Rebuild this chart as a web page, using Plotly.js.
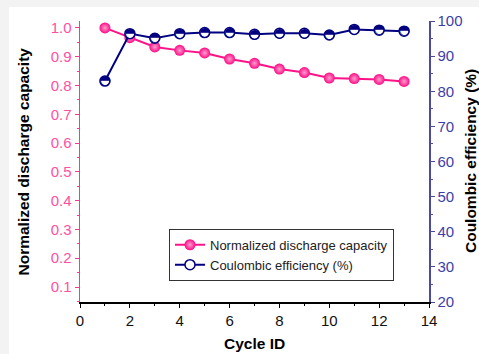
<!DOCTYPE html>
<html>
<head>
<meta charset="utf-8">
<script src="https://cdn.plot.ly/plotly-3.0.1.min.js"></script>
<style>
  html, body { margin: 0; padding: 0; background: #f3f3f3; width: 479px; height: 354px; overflow: hidden; }
  #chart { position: absolute; left: 9px; top: 7px; width: 470px; height: 347px; background: #ffffff; }
</style>
</head>
<body>
<div id="chart"></div>
<script>
// Cycle index
const cycles = [1, 2, 3, 4, 5, 6, 7, 8, 9, 10, 11, 12, 13];
// Discharge capacity normalised to the first cycle
const normCapacity = [1.0, 0.966, 0.934, 0.922, 0.913, 0.892, 0.877, 0.857, 0.845, 0.826, 0.824, 0.821, 0.814];
// Coulombic efficiency, %
const coulombic = [82.9, 96.4, 95.1, 96.4, 96.7, 96.7, 96.2, 96.5, 96.5, 96.0, 97.6, 97.4, 97.1];

const xTicks = [0, 2, 4, 6, 8, 10, 12, 14];
const capTicks = [0.1, 0.2, 0.3, 0.4, 0.5, 0.6, 0.7, 0.8, 0.9, 1.0];
const ceTicks = [20, 30, 40, 50, 60, 70, 80, 90, 100];

const PINK = '#ff1188';
const NAVY = '#000080';
const FONT = 'Arial, "Liberation Sans", sans-serif';

const traces = [
  {
    x: cycles, y: normCapacity, name: 'Normalized discharge capacity',
    type: 'scatter', mode: 'lines+markers', xaxis: 'x', yaxis: 'y',
    line: { color: PINK, width: 2 },
    marker: { symbol: 'circle', size: 11, color: '#ff0a84',
              line: { width: 0 },
              gradient: { type: 'radial', color: '#ff9fd0' } }
  },
  {
    x: cycles, y: coulombic, name: 'Coulombic efficiency (%)',
    type: 'scatter', mode: 'lines+markers', xaxis: 'x', yaxis: 'y2',
    line: { color: NAVY, width: 2 },
    marker: { symbol: 'circle', size: 10, color: '#ffffff',
              line: { color: NAVY, width: 1.5 } }
  },
  {
    // upper half filled glyph on top of each efficiency point
    x: cycles, y: coulombic, showlegend: false, hoverinfo: 'skip',
    type: 'scatter', mode: 'text', xaxis: 'x', yaxis: 'y2',
    text: cycles.map(() => '\u25D3'),
    textposition: 'middle center',
    textfont: { family: '"DejaVu Sans"', size: 13, color: NAVY }
  }
];

const layout = {
  width: 470, height: 347,
  margin: { l: 71, r: 50, t: 14, b: 52.3 },
  paper_bgcolor: '#ffffff', plot_bgcolor: '#ffffff',
  font: { family: FONT, size: 15, color: '#000000' },
  showlegend: true,
  legend: {
    x: 0.255, y: 0.168, xanchor: 'left', yanchor: 'middle',
    bgcolor: '#ffffff', bordercolor: '#333333', borderwidth: 1,
    font: { family: FONT, size: 13, color: '#222222' },
    tracegroupgap: 0, itemwidth: 30
  },
  xaxis: {
    range: [0, 14], tickvals: xTicks, ticktext: xTicks.map(String),
    showgrid: false, zeroline: false,
    showline: true, linecolor: '#000000', linewidth: 1.5,
    ticks: 'outside', ticklen: 4, tickwidth: 1, tickcolor: '#000000',
    minor: { dtick: 1, ticks: 'outside', ticklen: 2, tickcolor: '#000000' },
    tickfont: { size: 15, color: '#111111' }
  },
  xaxis2: {
    range: [0, 14], overlaying: 'x', side: 'top', anchor: 'y',
    showticklabels: false, showgrid: false, zeroline: false,
    showline: true, linecolor: '#000000', linewidth: 1,
    ticks: 'inside', dtick: 1, tick0: 0, ticklen: 4, tickcolor: '#000000'
  },
  yaxis: {
    range: [0.048, 1.024], tickvals: capTicks, ticktext: capTicks.map(v => v.toFixed(1)),
    showgrid: false, zeroline: false,
    showline: true, linecolor: '#ff3399', linewidth: 1.5,
    ticks: 'outside', ticklen: 4, tickwidth: 1, tickcolor: '#ff3399',
    minor: { dtick: 0.05, tick0: 0, ticks: 'outside', ticklen: 2, tickcolor: '#ff3399' },
    tickfont: { size: 15, color: '#ff4fa3' }
  },
  yaxis2: {
    range: [20, 100], overlaying: 'y', side: 'right', anchor: 'x',
    tickvals: ceTicks, ticktext: ceTicks.map(String),
    showgrid: false, zeroline: false,
    showline: true, linecolor: '#4a4aa0', linewidth: 1.5,
    ticks: 'outside', ticklen: 4, tickwidth: 1, tickcolor: '#4a4aa0',
    minor: { dtick: 5, tick0: 0, ticks: 'outside', ticklen: 2, tickcolor: '#4a4aa0' },
    tickfont: { size: 15, color: '#3d3daa' }
  },
  annotations: [
    { text: '<b>Normalized discharge capacity</b>', xref: 'paper', yref: 'paper',
      x: -0.1605, y: 0.5, xanchor: 'center', yanchor: 'middle', textangle: -90,
      showarrow: false, font: { family: FONT, size: 15.5, color: '#000000' } },
    { text: '<b>Coulombic efficiency (%)</b>', xref: 'paper', yref: 'paper',
      x: 1.119, y: 0.5, xanchor: 'center', yanchor: 'middle', textangle: -90,
      showarrow: false, font: { family: FONT, size: 15.5, color: '#000000' } },
    { text: '<b>Cycle ID</b>', xref: 'paper', yref: 'paper',
      x: 0.5, y: -0.147, xanchor: 'center', yanchor: 'middle',
      showarrow: false, font: { family: FONT, size: 15.5, color: '#000000' } }
  ]
};

Plotly.newPlot('chart', traces, layout, { displayModeBar: false, staticPlot: true });
</script>
</body>
</html>
